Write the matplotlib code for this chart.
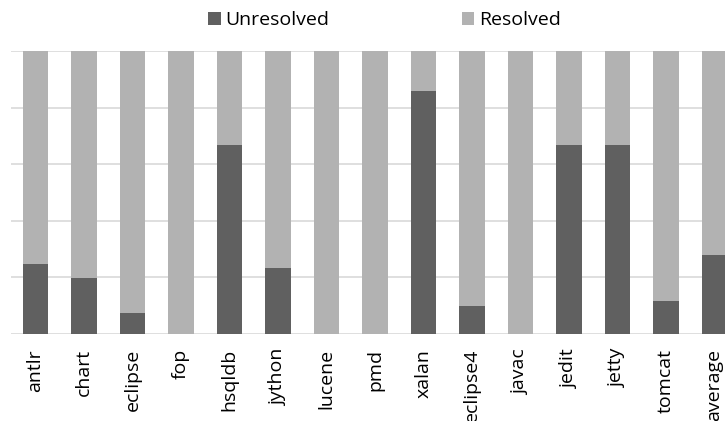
import matplotlib
matplotlib.use("Agg")
import matplotlib.pyplot as plt
import numpy as np

categories = ["antlr", "chart", "eclipse", "fop", "hsqldb", "jython", "lucene", "pmd",
              "xalan", "eclipse4", "javac", "jedit", "jetty", "tomcat", "average"]
unresolved = [24.7, 19.6, 7.3, 0, 66.7, 23.4, 0, 0, 85.7, 9.7, 0, 66.7, 66.7, 11.7, 27.7]
resolved = [100 - u for u in unresolved]

dark = "#606060"
light = "#b2b2b2"

plt.rcParams['font.family'] = ['Open Sans', 'DejaVu Sans']

fig = plt.figure(figsize=(7.25, 4.21), dpi=100)
W, H = 725, 421
left, right = 11.25, 738.75
top, bottom = 51, 333.7
ax = fig.add_axes([left / W, (H - bottom) / H, (right - left) / W, (bottom - top) / H])

x = np.arange(len(categories))
b1 = ax.bar(x, unresolved, width=0.52, color=dark, label="Unresolved", zorder=3)
b2 = ax.bar(x, resolved, width=0.52, bottom=unresolved, color=light, label="Resolved", zorder=3)

ax.set_xlim(-0.5, len(categories) - 0.5)
ax.set_ylim(0, 100)
ax.set_yticks([0, 20, 40, 60, 80, 100])
ax.yaxis.grid(True, color="#d9d9d9", linewidth=1.2, zorder=0)
ax.set_yticklabels([])
ax.tick_params(axis="y", length=0)
ax.tick_params(axis="x", length=0, pad=11)
for s in ax.spines.values():
    s.set_visible(False)
ax.set_xticks(x)
ax.set_xticklabels(categories, rotation=90, fontsize=14, color="#000000")

fig.legend(handles=[b1, b2], loc="center left", bbox_to_anchor=(208 / W, 1 - 20 / H),
           ncol=2, frameon=False, fontsize=14, handlelength=0.65, handleheight=0.65,
           handletextpad=0.25, columnspacing=6.8, borderpad=0, borderaxespad=0)

fig.savefig("out.png", dpi=100)
